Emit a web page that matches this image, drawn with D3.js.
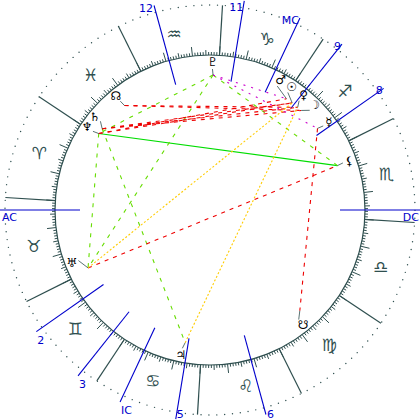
<!DOCTYPE html>
<html><head><meta charset="utf-8">
<script src="https://cdn.jsdelivr.net/npm/d3@7"></script>
<style>body{margin:0;background:#fff}svg{display:block}</style>
</head><body>
<svg id="c" width="420" height="420"></svg>
<script>
const ascendant = 33.5;
const signGlyphs = ["♈","♉","♊","♋","♌","♍","♎","♏","♐","♑","♒","♓"];
const cuspNames = ["AC","2","3","IC","5","6","DC","8","9","MC","11","12"];
const cuspLongitudes = [33.5,68.5,85,98.4,114.2,138.8,213.5,248.5,265,278.4,294.2,318.8];
const planetNames = ["Neptune","Saturn","NNode","Pluto","Mars","Sun","Venus","Moon","Mercury","Lilith","Uranus","SNode","Jupiter"];
const planetGlyphs = ["♆","♄","☊","♇","♂","☉","♀","☽","☿","⚸","♅","☋","♃"];
const planetLongitudes = [359,356.5,342.8,302.2,269,266,263,261,250.7,232.7,58.9,165.2,112.9];
const glyphLongitudes = [359.6,354.5,343,302.5,275,270,264.3,258.5,250.1,233,54.5,162.5,112.2];
const aspects = [
 ["Neptune","Lilith","gs"],["Neptune","Uranus","gd"],["Saturn","Jupiter","gd"],
 ["Pluto","Neptune","gd"],["Pluto","Uranus","gd"],["Pluto","Lilith","gd"],
 ["Neptune","Mars","rd"],["Neptune","Sun","rd"],["Saturn","Sun","rd"],["Saturn","Venus","rd"],
 ["Saturn","Moon","rd"],["NNode","Venus","rd"],["NNode","Moon","rd"],
 ["Uranus","Lilith","rd"],["Mercury","SNode","rd"],
 ["Uranus","Sun","yd"],["Jupiter","Venus","yd"],
 ["Pluto","Mars","md"],["Pluto","Mercury","md"]
];
const aspectStyle = {gs:["#00dd00",null],gd:["#66dd00","4,6"],rd:["#ee0000","4,5"],yd:["#ffcc00","2,2"],md:["#cc00cc","2,6"]};

const cx=210, cy=210, rOuter=205, rInner=155, rPoint=135, rGlyph=148, rSign=180;
const ang = d3.scaleLinear().domain([0,360]).range([180-ascendant, 540-ascendant]);
function pt(L,r){const t=ang(L)*Math.PI/180;return [cx+r*Math.cos(t), cy-r*Math.sin(t)];}
const svg=d3.select("#c"); const dark="#2f4f4f";

svg.append("g").selectAll("circle").data(d3.range(0,360,2.2)).join("circle")
 .attr("cx",d=>pt(d,rOuter)[0]).attr("cy",d=>pt(d,rOuter)[1]).attr("r",0.7).attr("fill",dark);
svg.append("circle").attr("cx",cx).attr("cy",cy).attr("r",rInner).attr("fill","none").attr("stroke",dark).attr("stroke-width",1.2);
svg.append("g").selectAll("line").data(d3.range(0,360,1)).join("line")
 .each(function(d){const len=d%10===0?9:d%5===0?5:3;const a=pt(d,rInner),b=pt(d,rInner+len);
  d3.select(this).attr("x1",a[0]).attr("y1",a[1]).attr("x2",b[0]).attr("y2",b[1]);})
 .attr("stroke",dark).attr("stroke-width",1);
svg.append("g").selectAll("line").data(d3.range(12)).join("line")
 .each(function(i){const a=pt(i*30,rInner),b=pt(i*30,rOuter);
  d3.select(this).attr("x1",a[0]).attr("y1",a[1]).attr("x2",b[0]).attr("y2",b[1]);})
 .attr("stroke",dark).attr("stroke-width",1.2);
svg.append("g").selectAll("text").data(signGlyphs).join("text")
 .attr("x",(d,i)=>pt(i*30+15,rSign)[0]).attr("y",(d,i)=>pt(i*30+15,rSign)[1])
 .attr("text-anchor","middle").attr("dominant-baseline","central")
 .attr("font-family","DejaVu Sans").attr("font-size",17).attr("fill",dark).text(d=>d+"\uFE0E");
const cg=svg.append("g");
cuspLongitudes.forEach((L,i)=>{
 const a=pt(L,130),b=pt(L,212);
 cg.append("line").attr("x1",a[0]).attr("y1",a[1]).attr("x2",b[0]).attr("y2",b[1]).attr("stroke","#0000cc").attr("stroke-width",1.1);
 const name=cuspNames[i]; let x=b[0],y=b[1],anchor;
 if(name==="DC"){x=419;y=221;anchor="end";}
 else if(name==="AC"){x=2;y=221;anchor="start";}
 else if(y<cy){x-=1;y=Math.max(y+6,11);anchor="end";}
 else {x+=1;y=Math.min(y+12,418);anchor="start";}
 cg.append("text").attr("x",x).attr("y",y).attr("text-anchor",anchor).attr("font-family","DejaVu Sans")
  .attr("font-size",11).attr("fill","#0000cc").text(name);
});
const idx=n=>planetNames.indexOf(n);
svg.append("g").selectAll("line").data(aspects).join("line")
 .each(function(d){const a=pt(planetLongitudes[idx(d[0])],rPoint),b=pt(planetLongitudes[idx(d[1])],rPoint);
  d3.select(this).attr("x1",a[0]).attr("y1",a[1]).attr("x2",b[0]).attr("y2",b[1]);})
 .attr("stroke",d=>aspectStyle[d[2]][0]).attr("stroke-dasharray",d=>aspectStyle[d[2]][1]).attr("stroke-width",1.1);
const pg=svg.append("g");
planetNames.forEach((n,i)=>{
 const a=pt(planetLongitudes[i],rPoint),b=pt(glyphLongitudes[i],rGlyph-7);
 pg.append("line").attr("x1",a[0]).attr("y1",a[1]).attr("x2",b[0]).attr("y2",b[1]).attr("stroke",dark).attr("stroke-width",0.8);
 const g=pt(glyphLongitudes[i],rGlyph);
 pg.append("text").attr("x",g[0]).attr("y",g[1]).attr("text-anchor","middle").attr("dominant-baseline","central")
  .attr("font-family","DejaVu Sans").attr("font-size",12).attr("fill","#000").text(planetGlyphs[i]+"\uFE0E");
});
</script></body></html>
